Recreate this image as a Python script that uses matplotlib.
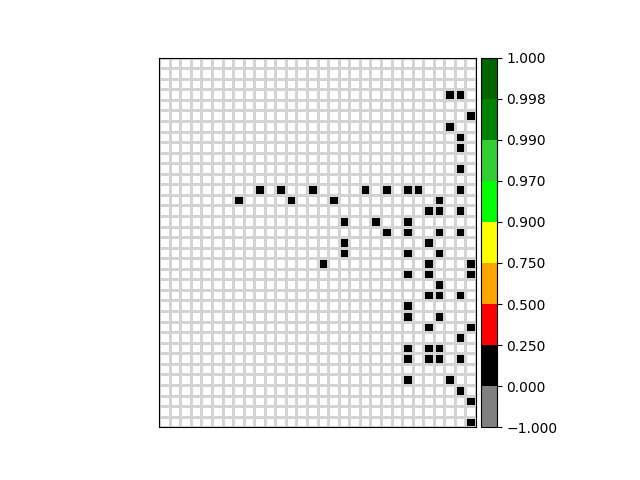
import numpy as np
import matplotlib
matplotlib.use("Agg")
import matplotlib.pyplot as plt
from matplotlib.colors import ListedColormap, BoundaryNorm
from matplotlib.ticker import FuncFormatter
from mpl_toolkits.axes_grid1 import make_axes_locatable

n_rows = 35
n_cols = 30

# black (value 0..0.25) cells: row index from top, column index from left
cell_rows = [3, 3, 5, 6, 7, 8, 10,
             12, 12, 12, 12, 12, 12, 12, 12,
             13, 13, 13, 13,
             14, 14, 14,
             15, 15, 15,
             16, 16, 16, 16,
             17, 17,
             18, 18, 18,
             19, 19, 19,
             20, 20, 20,
             21,
             22, 22, 22,
             23,
             24, 24,
             25, 25,
             26,
             27, 27, 27,
             28, 28, 28, 28,
             30, 30,
             31, 32, 34]
cell_cols = [27, 28, 29, 27, 28, 28, 28,
             9, 11, 14, 19, 21, 23, 24, 28,
             7, 12, 16, 26,
             25, 26, 28,
             17, 20, 23,
             21, 23, 26, 28,
             17, 25,
             17, 23, 26,
             15, 25, 29,
             23, 25, 29,
             26,
             25, 26, 28,
             23,
             23, 26,
             25, 29,
             28,
             23, 25, 26,
             23, 25, 26, 28,
             23, 27,
             28, 29, 29]
cell_values = [0.0] * len(cell_rows)

bounds = [-1.0, 0.0, 0.25, 0.5, 0.75, 0.9, 0.97, 0.99, 0.998, 1.0]
colors = ['gray', 'black', 'red', 'orange', 'yellow', 'lime',
          'limegreen', 'green', 'darkgreen']

grid = np.full((n_rows, n_cols), np.nan)
for r, c, v in zip(cell_rows, cell_cols, cell_values):
    grid[r, c] = v

cmap = ListedColormap(colors)
cmap.set_bad('white')
norm = BoundaryNorm(bounds, cmap.N)

fig, ax = plt.subplots(figsize=(6.4, 4.8), dpi=100)
mesh = ax.pcolormesh(np.ma.masked_invalid(grid), cmap=cmap, norm=norm,
                     edgecolors='lightgray', linewidth=1)
ax.set_xlim(0, n_cols)
ax.set_ylim(n_rows, 0)
ax.set_aspect('equal')
ax.set_xticks([])
ax.set_yticks([])

divider = make_axes_locatable(ax)
cax = divider.append_axes("right", size="5%", pad=0.05)
fmt = FuncFormatter(lambda x, p: f"{x:.3f}".replace('-', '\u2212'))
fig.colorbar(mesh, cax=cax, ticks=bounds, format=fmt)

fig.savefig("out.png", dpi=100)
